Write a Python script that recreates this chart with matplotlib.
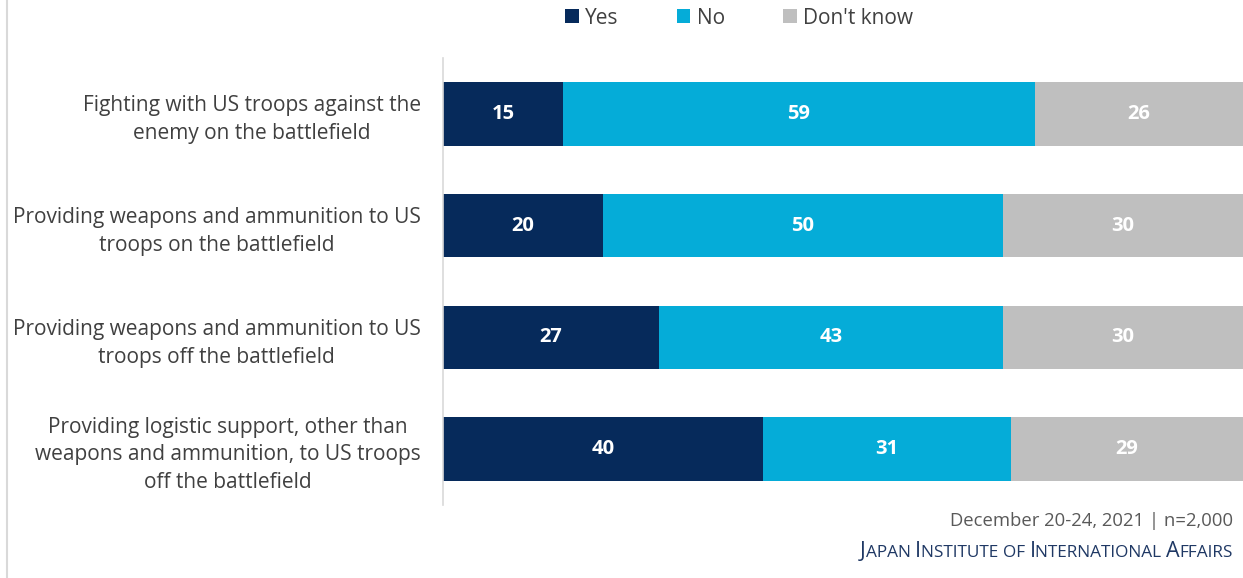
import matplotlib.pyplot as plt
from matplotlib.lines import Line2D
from matplotlib.patches import Patch

plt.rcParams["font.family"] = ["Open Sans", "DejaVu Sans"]

categories = [
    "Fighting with US troops against the\nenemy on the battlefield",
    "Providing weapons and ammunition to US\ntroops on the battlefield",
    "Providing weapons and ammunition to US\ntroops off the battlefield",
    "Providing logistic support, other than\nweapons and ammunition, to US troops\noff the battlefield",
]
series_names = ["Yes", "No", "Don't know"]
yes = [15, 20, 27, 40]
no = [59, 50, 43, 31]
dont_know = [26, 30, 30, 29]
colors = ["#062A5B", "#05ACD8", "#BFBFBF"]

fig = plt.figure(figsize=(12.43, 5.78), dpi=100)
ax = fig.add_axes([443 / 1243, 1 - 505 / 578, 1 - 443 / 1243, (505 - 58) / 578])

ypos = list(range(len(categories)))
left = [0] * len(categories)
for name, vals, col in zip(series_names, [yes, no, dont_know], colors):
    bars = ax.barh(ypos, vals, left=left, height=0.57, color=col, label=name)
    for b, v in zip(bars, vals):
        ax.text(b.get_x() + b.get_width() / 2, b.get_y() + b.get_height() / 2,
                str(v), ha="center", va="center", color="white",
                fontsize=14.5, fontweight="bold")
    left = [l + v for l, v in zip(left, vals)]

ax.set_xlim(0, 100)
ax.set_ylim(len(categories) - 0.5, -0.5)
ax.set_xticks([])
ax.set_yticks(ypos)
ax.set_yticklabels(categories, multialignment="center", fontsize=15, color="#404040",
                   linespacing=1.42)
ax.tick_params(axis="y", length=0, pad=16)
for s in ["top", "right", "bottom"]:
    ax.spines[s].set_visible(False)
ax.spines["left"].set_color("#D9D9D9")
ax.spines["left"].set_linewidth(1.2)

# legend across the top
handles = [Patch(facecolor=c, edgecolor="none") for c in colors]
fig.legend(handles, series_names, loc="center", bbox_to_anchor=(739 / 1243, 1 - 18 / 578),
           ncol=3, frameon=False, fontsize=15, handlelength=0.65, handleheight=0.65,
           handletextpad=0.3, columnspacing=2.8, labelcolor="#404040")

# thin frame line on the left edge
fig.add_artist(Line2D([7 / 1243, 7 / 1243], [0, 1], color="#D9D9D9", linewidth=1.5))

# footer
fig.text(1233 / 1243, 1 - 521 / 578, "December 20-24, 2021 | n=2,000", ha="right",
         va="center", fontsize=13.3, color="#595959")

# institute name in small caps, built piece by piece and right-aligned
words = ["Japan", "Institute", "of", "International", "Affairs"]
big, small = 15.5, 12.4
navy = "#1F3864"
renderer = fig.canvas.get_renderer()
pieces = []
for i, w in enumerate(words):
    gap = " " if i < len(words) - 1 else ""
    if w[0].isupper():
        pieces.append((w[0], big))
        pieces.append((w[1:].upper() + gap, small))
    else:
        pieces.append((w.upper() + gap, small))
x = 0.0
y = 1 - 557 / 578
objs = []
for txt, size in pieces:
    t = fig.text(x, y, txt, fontsize=size, color=navy, ha="left", va="baseline")
    w = t.get_window_extent(renderer).width / fig.bbox.width
    objs.append((t, w))
    x += w
cur = 1233 / 1243 - x
for t, w in objs:
    t.set_x(cur)
    cur += w

fig.savefig("out.png", dpi=100)
